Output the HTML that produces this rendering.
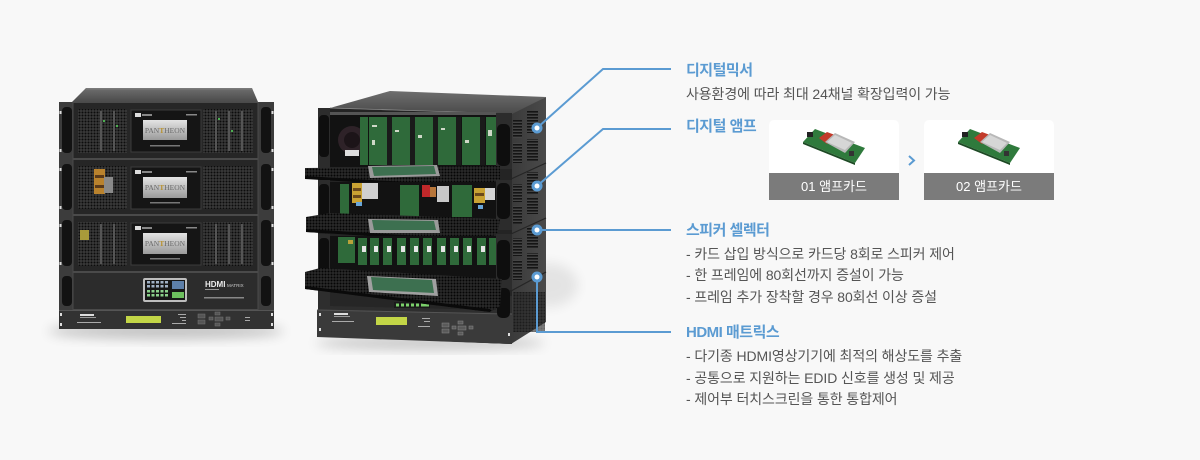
<!DOCTYPE html>
<html><head><meta charset="utf-8">
<style>
html,body{margin:0;padding:0;}
body{width:1200px;height:460px;background:#f8f8f8;position:relative;overflow:hidden;font-family:"Liberation Sans","Noto Sans CJK KR",sans-serif;}
svg{position:absolute;left:0;top:0;}
.t{position:absolute;left:686px;font-size:15px;font-weight:bold;color:#5b9bd2;line-height:20px;letter-spacing:-0.5px;white-space:nowrap;}
.d{position:absolute;left:686px;font-size:14px;color:#555;line-height:20px;white-space:nowrap;letter-spacing:-0.1px;}
.card{position:absolute;top:120px;width:130px;height:80px;background:#fff;border-radius:5px 5px 0 0;overflow:hidden;}
.lab{position:absolute;left:0;bottom:0;width:130px;height:27px;line-height:27px;text-align:center;color:#fff;font-size:13px;background:#7b7b7b;}
</style></head><body>
<svg width="1200" height="460" viewBox="0 0 1200 460" xmlns="http://www.w3.org/2000/svg">
<defs>
<pattern id="mesh" width="3" height="3" patternUnits="userSpaceOnUse"><rect width="3" height="3" fill="#3a3a3a"/><circle cx="1.5" cy="1.5" r="1" fill="#0c0c0c"/></pattern>
<pattern id="tmesh" width="3" height="3" patternUnits="userSpaceOnUse"><rect width="3" height="3" fill="#2a2a2a"/><circle cx="1.5" cy="1.5" r="1" fill="#050505"/></pattern>
<pattern id="vent" width="4" height="3" patternUnits="userSpaceOnUse"><rect width="4" height="3" fill="#454545"/><rect width="4" height="1.6" fill="#151515"/></pattern>
<linearGradient id="scr" x1="0" y1="0" x2="0" y2="1"><stop offset="0" stop-color="#e4e4e4"/><stop offset="1" stop-color="#9a9a9a"/></linearGradient>
<linearGradient id="topg" x1="0" y1="0" x2="0" y2="1"><stop offset="0" stop-color="#6e6e6e"/><stop offset="1" stop-color="#4a4a4a"/></linearGradient>
<linearGradient id="side" x1="0" y1="0" x2="1" y2="0"><stop offset="0" stop-color="#3a3a3a"/><stop offset="1" stop-color="#4a4a4a"/></linearGradient>
<filter id="bl" x="-50%" y="-50%" width="200%" height="200%"><feGaussianBlur stdDeviation="6"/></filter>
</defs>

<!-- ============ LEFT RACK ============ -->
<ellipse cx="166" cy="331" rx="118" ry="8" fill="#000" opacity=".22" filter="url(#bl)"/>
<polygon points="86,88 252,88 258,102 72,102" fill="url(#topg)"/>
<rect x="86" y="88" width="166" height="1.5" fill="#7a7a7a"/>
<rect x="59" y="102" width="215" height="208" fill="#3c3c3c"/>

<!-- unit 1 -->
<rect x="73" y="102.5" width="185" height="56" fill="#262626" stroke="#4a4a4a"/>
<rect x="78" y="109" width="49" height="44" fill="url(#mesh)"/>
<rect x="203" y="109" width="50" height="44" fill="url(#mesh)"/>
<g fill="#555"><rect x="100" y="111" width="2" height="40"/><rect x="113" y="111" width="2" height="40"/><rect x="215" y="111" width="2" height="40"/><rect x="228" y="111" width="2" height="40"/><rect x="241" y="111" width="2" height="40"/></g>
<g fill="#4caf50"><rect x="103" y="120" width="2" height="2"/><rect x="116" y="125" width="2" height="2"/><rect x="218" y="118" width="2" height="2"/><rect x="231" y="130" width="2" height="2"/></g>
<rect x="131" y="110" width="70" height="42" fill="#151515" stroke="#3c3c3c"/>
<rect x="135" y="113" width="6" height="4" fill="#ddd"/><rect x="142" y="114" width="10" height="2" fill="#888"/><rect x="186" y="114" width="11" height="1.5" fill="#888"/>
<rect x="143" y="120" width="44" height="20" fill="url(#scr)"/>
<text x="165" y="133" font-size="7.5" text-anchor="middle" fill="#6a6a6a" font-family="Liberation Serif">PAN<tspan fill="#b8912e" font-weight="bold">T</tspan>HEON</text>
<rect x="150" y="145" width="30" height="1.5" fill="#777"/>
<rect x="62" y="107" width="10" height="46" rx="4" fill="#121212"/><rect x="261" y="107" width="10" height="46" rx="4" fill="#121212"/>
<rect x="59.5" y="111" width="2" height="3" fill="#ddd"/><rect x="59.5" y="149" width="2" height="3" fill="#ddd"/><rect x="271.5" y="111" width="2" height="3" fill="#ddd"/><rect x="271.5" y="149" width="2" height="3" fill="#ddd"/>

<!-- unit 2 -->
<rect x="73" y="159.5" width="185" height="55" fill="#262626" stroke="#4a4a4a"/>
<rect x="78" y="166" width="49" height="43" fill="url(#mesh)"/>
<rect x="203" y="166" width="50" height="43" fill="url(#mesh)"/>
<rect x="94" y="169" width="11" height="25" fill="#b9822d"/><rect x="95" y="175" width="9" height="3" fill="#5a3a1a"/><rect x="95" y="185" width="9" height="3" fill="#5a3a1a"/>
<rect x="104" y="177" width="9" height="16" fill="#8a8a8a"/>
<rect x="131" y="167" width="70" height="42" fill="#151515" stroke="#3c3c3c"/>
<rect x="135" y="170" width="6" height="4" fill="#ddd"/><rect x="142" y="171" width="10" height="2" fill="#888"/><rect x="186" y="171" width="11" height="1.5" fill="#888"/>
<rect x="143" y="177" width="44" height="21" fill="url(#scr)"/>
<text x="165" y="190" font-size="7.5" text-anchor="middle" fill="#6a6a6a" font-family="Liberation Serif">PAN<tspan fill="#b8912e" font-weight="bold">T</tspan>HEON</text>
<rect x="150" y="202" width="30" height="1.5" fill="#777"/>
<rect x="62" y="164" width="10" height="46" rx="4" fill="#121212"/><rect x="261" y="164" width="10" height="46" rx="4" fill="#121212"/>
<rect x="59.5" y="168" width="2" height="3" fill="#ddd"/><rect x="59.5" y="206" width="2" height="3" fill="#ddd"/><rect x="271.5" y="168" width="2" height="3" fill="#ddd"/><rect x="271.5" y="206" width="2" height="3" fill="#ddd"/>

<!-- unit 3 -->
<rect x="73" y="215.5" width="185" height="56" fill="#262626" stroke="#4a4a4a"/>
<rect x="78" y="222" width="49" height="44" fill="url(#mesh)"/>
<rect x="203" y="222" width="50" height="44" fill="url(#mesh)"/>
<rect x="80" y="230" width="9" height="10" fill="#a89a3a"/>
<g fill="#555"><rect x="100" y="224" width="2" height="40"/><rect x="113" y="224" width="2" height="40"/><rect x="215" y="224" width="2" height="40"/><rect x="228" y="224" width="2" height="40"/><rect x="241" y="224" width="2" height="40"/></g>
<rect x="131" y="223" width="70" height="42" fill="#151515" stroke="#3c3c3c"/>
<rect x="135" y="226" width="6" height="4" fill="#ddd"/><rect x="142" y="227" width="10" height="2" fill="#888"/><rect x="186" y="227" width="11" height="1.5" fill="#888"/>
<rect x="143" y="233" width="44" height="21" fill="url(#scr)"/>
<text x="165" y="246" font-size="7.5" text-anchor="middle" fill="#6a6a6a" font-family="Liberation Serif">PAN<tspan fill="#b8912e" font-weight="bold">T</tspan>HEON</text>
<rect x="150" y="258" width="30" height="1.5" fill="#777"/>
<rect x="62" y="220" width="10" height="46" rx="4" fill="#121212"/><rect x="261" y="220" width="10" height="46" rx="4" fill="#121212"/>
<rect x="59.5" y="224" width="2" height="3" fill="#ddd"/><rect x="59.5" y="262" width="2" height="3" fill="#ddd"/><rect x="271.5" y="224" width="2" height="3" fill="#ddd"/><rect x="271.5" y="262" width="2" height="3" fill="#ddd"/>

<!-- unit 4 HDMI -->
<rect x="73" y="272.5" width="185" height="37" fill="#2c2c2c" stroke="#4a4a4a"/>
<rect x="143" y="278" width="44" height="24" rx="2" fill="#bdbdbd"/>
<rect x="145" y="280" width="40" height="20" fill="#161616"/>
<g fill="#9fb0c4">
<rect x="147" y="281" width="3" height="2.5"/><rect x="151.5" y="281" width="3" height="2.5"/><rect x="156" y="281" width="3" height="2.5"/><rect x="160.5" y="281" width="3" height="2.5"/><rect x="165" y="281" width="3" height="2.5"/>
<rect x="147" y="285" width="3" height="2.5"/><rect x="151.5" y="285" width="3" height="2.5"/><rect x="156" y="285" width="3" height="2.5"/><rect x="160.5" y="285" width="3" height="2.5"/><rect x="165" y="285" width="3" height="2.5"/>
</g>
<g fill="#8ad08a">
<rect x="147" y="290" width="3" height="2.5"/><rect x="151.5" y="290" width="3" height="2.5"/><rect x="156" y="290" width="3" height="2.5"/><rect x="160.5" y="290" width="3" height="2.5"/><rect x="165" y="290" width="3" height="2.5"/>
<rect x="147" y="294" width="3" height="2.5"/><rect x="151.5" y="294" width="3" height="2.5"/><rect x="156" y="294" width="3" height="2.5"/><rect x="160.5" y="294" width="3" height="2.5"/><rect x="165" y="294" width="3" height="2.5"/>
</g>
<rect x="172" y="281" width="12" height="8" fill="#5d7fa8"/>
<rect x="172" y="292" width="12" height="6" fill="#6dbf5e"/>
<text x="205" y="287" font-size="8" font-weight="bold" fill="#eee" font-family="Liberation Sans">HDMI</text>
<text x="227" y="287" font-size="4.5" fill="#ccc" font-family="Liberation Sans">MATRIX</text>
<rect x="205" y="289" width="14" height="1" fill="#999"/>
<rect x="204" y="297" width="40" height="1.5" fill="#888"/>
<rect x="62" y="276" width="10" height="30" rx="4" fill="#121212"/><rect x="261" y="276" width="10" height="30" rx="4" fill="#121212"/>

<!-- unit 5 -->
<rect x="59" y="310" width="215" height="19" fill="#323232"/>
<rect x="59" y="310" width="215" height="1" fill="#555"/>
<rect x="80" y="314" width="14" height="2" fill="#ddd"/><rect x="80" y="317" width="16" height="1" fill="#999"/><rect x="77" y="322" width="24" height="1" fill="#aaa"/>
<rect x="126" y="316" width="35" height="7" fill="#c3d647"/>
<g fill="#aaa"><rect x="178" y="314" width="8" height="1"/><rect x="180" y="317" width="6" height="1"/><rect x="182" y="320" width="4" height="1"/><rect x="172" y="323" width="14" height="1"/></g>
<g fill="#555" stroke="#777" stroke-width=".5"><rect x="198" y="314" width="7" height="4"/><rect x="198" y="320" width="7" height="4"/><rect x="209" y="317" width="4" height="3"/><rect x="215" y="312" width="5" height="3"/><rect x="215" y="317" width="8" height="4"/><rect x="215" y="323" width="5" height="3"/><rect x="226" y="317" width="4" height="3"/></g>
<rect x="245" y="317" width="5" height="1" fill="#aaa"/><rect x="245" y="320" width="5" height="1" fill="#aaa"/>
<rect x="60" y="313" width="2" height="3" fill="#ddd"/><rect x="60" y="323" width="2" height="3" fill="#ddd"/><rect x="271" y="313" width="2" height="3" fill="#ddd"/><rect x="271" y="323" width="2" height="3" fill="#ddd"/>

<!-- ============ RIGHT RACK ============ -->
<ellipse cx="430" cy="343" rx="115" ry="6" fill="#000" opacity=".22" filter="url(#bl)"/>
<ellipse cx="548" cy="285" rx="30" ry="22" fill="#000" opacity=".08" filter="url(#bl)"/>
<!-- side face -->
<polygon points="511,113 546,97 546,322 511,344" fill="url(#side)"/>
<g stroke="#252525" stroke-width="1.2"><line x1="511" y1="179" x2="546" y2="163"/><line x1="511" y1="234" x2="546" y2="218"/><line x1="511" y1="291" x2="546" y2="272"/></g>
<g fill="url(#vent)">
<rect x="513" y="120" width="9" height="18"/><rect x="527" y="111" width="11" height="22"/><rect x="513" y="143" width="9" height="20"/><rect x="527" y="139" width="11" height="22"/>
<rect x="513" y="184" width="9" height="18"/><rect x="527" y="172" width="11" height="22"/><rect x="513" y="206" width="9" height="18"/><rect x="527" y="198" width="11" height="16"/>
<rect x="513" y="238" width="9" height="18"/><rect x="527" y="227" width="11" height="22"/><rect x="513" y="260" width="9" height="20"/><rect x="527" y="253" width="11" height="16"/>
</g>
<rect x="513" y="292" width="32" height="40" fill="url(#tmesh)" opacity=".6"/>
<!-- top -->
<polygon points="330,108 390,91 546,97 512,114" fill="url(#topg)"/>
<line x1="330" y1="108" x2="512" y2="114" stroke="#888" stroke-width="1"/>
<!-- front base -->
<polygon points="318,108 512,114 512,344 318,336" fill="#242424"/>

<!-- unit 1 interior -->
<rect x="330" y="112" width="166" height="55" fill="#121212"/>
<rect x="330" y="112" width="166" height="3" fill="#555"/>
<circle cx="352" cy="140" r="14" fill="#2e2228"/><circle cx="352" cy="140" r="8" fill="#1c1418"/>
<rect x="345" y="150" width="14" height="6" fill="#ddd"/>
<g fill="#2f6a3a">
<rect x="360" y="117" width="8" height="48"/>
<rect x="369" y="117" width="20" height="48"/><rect x="392" y="117" width="21" height="48"/><rect x="415" y="117" width="21" height="48"/><rect x="438" y="117" width="21" height="48"/><rect x="462" y="117" width="20" height="48"/><rect x="486" y="117" width="10" height="48"/>
</g>
<g fill="#1a1a1a"><rect x="387" y="117" width="5" height="48"/><rect x="410" y="117" width="5" height="48"/><rect x="433" y="117" width="5" height="48"/><rect x="456" y="117" width="5" height="48"/><rect x="480" y="117" width="5" height="48"/></g>
<g fill="#cfd8c8"><rect x="372" y="125" width="5" height="2"/><rect x="372" y="140" width="3" height="5"/><rect x="395" y="130" width="4" height="2"/><rect x="418" y="135" width="4" height="3"/><rect x="441" y="128" width="4" height="2"/><rect x="465" y="140" width="4" height="3"/><rect x="488" y="130" width="4" height="6"/></g>
<rect x="318" y="108" width="12" height="60" fill="#2c2c2c"/>
<rect x="319" y="115" width="10" height="42" rx="4" fill="#0e0e0e"/>
<rect x="496" y="113" width="16" height="56" fill="#2c2c2c"/>
<rect x="497" y="124" width="13" height="42" rx="5" fill="#0e0e0e"/>

<!-- tray 1 -->
<polygon points="305,168 500,166 500,180 490,190 305,178" fill="url(#tmesh)"/>
<polygon points="305,176 490,187 490,190 305,179" fill="#0a0a0a"/>
<polygon points="368,166 437,165 440,176 370,178" fill="#9a9a9a"/>
<polygon points="372,167 434,166 436,174 374,176" fill="#3d7050"/>

<!-- unit 2 -->
<rect x="330" y="182" width="166" height="45" fill="#121212"/>
<rect x="340" y="184" width="9" height="30" fill="#2f6a3a"/>
<rect x="352" y="183" width="10" height="20" fill="#c9a233"/><rect x="353" y="188" width="8" height="3" fill="#6b4a1c"/><rect x="353" y="195" width="8" height="3" fill="#6b4a1c"/>
<rect x="362" y="183" width="16" height="16" fill="#d0d0d0"/>
<rect x="356" y="202" width="6" height="4" fill="#6aa6d8"/>
<rect x="400" y="185" width="19" height="32" fill="#2f6a3a"/>
<rect x="422" y="185" width="8" height="12" fill="#c0282a"/><rect x="430" y="187" width="6" height="10" fill="#b7763a"/>
<rect x="437" y="186" width="12" height="16" fill="#c8c8c8"/>
<rect x="452" y="185" width="20" height="32" fill="#2f6a3a"/>
<rect x="474" y="188" width="11" height="15" fill="#c9a233"/><rect x="475" y="193" width="9" height="3" fill="#6b4a1c"/>
<rect x="485" y="188" width="10" height="12" fill="#d5d5d5"/>
<rect x="478" y="205" width="5" height="4" fill="#6aa6d8"/>
<rect x="318" y="180" width="12" height="48" fill="#2c2c2c"/>
<rect x="319" y="184" width="10" height="36" rx="4" fill="#0e0e0e"/>
<rect x="496" y="180" width="16" height="50" fill="#2c2c2c"/>
<rect x="497" y="183" width="13" height="36" rx="5" fill="#0e0e0e"/>

<!-- tray 2 -->
<polygon points="306,217 330,213 500,219 498,232 484,243 306,232" fill="url(#tmesh)"/>
<polygon points="306,229 484,240 484,243 306,232" fill="#0a0a0a"/>
<polygon points="368,219 438,220 440,233 370,233" fill="#9a9a9a"/>
<polygon points="372,220 434,221 436,230 374,230" fill="#3d7050"/>

<!-- unit 3 -->
<rect x="330" y="236" width="166" height="44" fill="#121212"/>
<rect x="338" y="237" width="17" height="26" fill="#2f6a3a"/><rect x="348" y="240" width="5" height="4" fill="#b8a23a"/>
<g fill="#2f6a3a">
<rect x="358" y="238" width="9" height="27"/><rect x="370" y="238" width="9" height="27"/><rect x="383" y="238" width="9" height="27"/><rect x="397" y="238" width="9" height="27"/><rect x="410" y="238" width="9" height="27"/><rect x="423" y="238" width="9" height="27"/><rect x="437" y="238" width="9" height="27"/><rect x="450" y="238" width="9" height="27"/><rect x="463" y="238" width="9" height="27"/><rect x="477" y="238" width="9" height="27"/><rect x="489" y="238" width="7" height="27"/>
</g>
<g fill="#e6e6e6">
<rect x="362" y="246" width="4" height="6"/><rect x="374" y="246" width="4" height="6"/><rect x="387" y="246" width="4" height="6"/><rect x="401" y="246" width="4" height="6"/><rect x="414" y="246" width="4" height="6"/><rect x="427" y="246" width="4" height="6"/><rect x="441" y="246" width="4" height="6"/><rect x="454" y="246" width="4" height="6"/><rect x="467" y="246" width="4" height="6"/><rect x="481" y="246" width="4" height="6"/>
</g>
<rect x="318" y="234" width="12" height="46" fill="#2c2c2c"/>
<rect x="319" y="238" width="10" height="34" rx="4" fill="#0e0e0e"/>
<rect x="496" y="234" width="16" height="56" fill="#2c2c2c"/>
<rect x="497" y="240" width="13" height="40" rx="5" fill="#0e0e0e"/>

<!-- bottom unit -->
<polygon points="318,290 512,296 512,344 318,336" fill="#2e2e2e"/>
<polygon points="330,292 496,297 496,310 330,306" fill="#262626"/>
<rect x="394" y="302" width="36" height="6" fill="#1a1a1a"/>
<g fill="#7bd06b"><rect x="396" y="303.5" width="3" height="3"/><rect x="401" y="303.5" width="3" height="3"/><rect x="406" y="303.5" width="3" height="3"/><rect x="411" y="303.5" width="3" height="3"/><rect x="416" y="303.5" width="3" height="3"/><rect x="421" y="303.5" width="8" height="3"/></g>
<polygon points="317,310 512,314 512,344 317,337" fill="#3a3a3a"/>
<line x1="317" y1="310" x2="512" y2="314" stroke="#555"/>
<rect x="334" y="313" width="14" height="2" fill="#ddd"/><rect x="334" y="316" width="16" height="1" fill="#999"/><rect x="332" y="321" width="22" height="1" fill="#aaa"/>
<rect x="376" y="317" width="31" height="8" fill="#c3d647"/>
<g fill="#aaa"><rect x="422" y="318" width="8" height="1"/><rect x="424" y="321" width="6" height="1"/><rect x="418" y="326" width="12" height="1"/></g>
<g fill="#5a5a5a" stroke="#888" stroke-width=".5"><rect x="442" y="323" width="7" height="4"/><rect x="442" y="329" width="7" height="4"/><rect x="452" y="326" width="4" height="3"/><rect x="458" y="321" width="5" height="3"/><rect x="458" y="326" width="8" height="4"/><rect x="458" y="332" width="5" height="3"/><rect x="469" y="326" width="4" height="3"/></g>
<rect x="319" y="313" width="2" height="3" fill="#ddd"/><rect x="319" y="328" width="2" height="3" fill="#ddd"/><rect x="508" y="333" width="2" height="3" fill="#ddd"/>
<rect x="497" y="288" width="13" height="30" rx="5" fill="#0e0e0e"/>

<!-- tray 3 -->
<polygon points="305,272 320,268 502,279 500,306 490,312 305,289" fill="url(#tmesh)"/>
<polygon points="305,286 490,309 490,312 305,289" fill="#0a0a0a"/>
<polygon points="367,276 436,279 438,296 369,292" fill="#a0a0a0"/>
<polygon points="371,277 432,280 434,293 373,290" fill="#3d7050"/>

<!-- ============ CONNECTORS ============ -->
<g fill="none" stroke="#5b9bd2" stroke-width="2">
<polyline points="537,128 603,69 671,69"/>
<polyline points="537,186 603,129 671,129"/>
<polyline points="537,230 671,230"/>
<polyline points="537,277 537,332 671,332"/>
</g>
<g fill="#5b9bd2"><circle cx="537" cy="128" r="5.5"/><circle cx="537" cy="186" r="5.5"/><circle cx="537" cy="230" r="5.5"/><circle cx="537" cy="277" r="5.5"/></g>
<g fill="#fff"><circle cx="537" cy="128" r="2.5"/><circle cx="537" cy="186" r="2.5"/><circle cx="537" cy="230" r="2.5"/><circle cx="537" cy="277" r="2.5"/></g>

<!-- chevron -->
<polyline points="909,156 914,160.5 909,165" fill="none" stroke="#5b9bd2" stroke-width="2"/>
</svg>

<!-- cards -->
<div class="card" style="left:769px;">
<svg width="130" height="53" viewBox="0 0 130 53" style="position:absolute;left:0;top:0;">
<polygon points="34,22 46,9 96,28 86,43" fill="#2f7a3c"/>
<polygon points="34,22 86,43 86,45 34,24" fill="#1d4a24"/>
<polygon points="50,18 58,12 66,15 58,24" fill="#c23a2a"/>
<polygon points="56,22 66,13 86,22 76,33" fill="#b8b8b8"/>
<polygon points="58,22 66,15 83,23 76,30" fill="#d6d6d6"/>
<rect x="38" y="12" width="6" height="5" fill="#222"/>
<rect x="80" y="31" width="5" height="5" fill="#333"/>
</svg>
<div class="lab">01 앰프카드</div>
</div>
<div class="card" style="left:924px;">
<svg width="130" height="53" viewBox="0 0 130 53" style="position:absolute;left:0;top:0;">
<polygon points="34,22 46,9 96,28 86,43" fill="#2f7a3c"/>
<polygon points="34,22 86,43 86,45 34,24" fill="#1d4a24"/>
<polygon points="50,18 58,12 66,15 58,24" fill="#c23a2a"/>
<polygon points="56,22 66,13 86,22 76,33" fill="#b8b8b8"/>
<polygon points="58,22 66,15 83,23 76,30" fill="#d6d6d6"/>
<rect x="38" y="12" width="6" height="5" fill="#222"/>
<rect x="80" y="31" width="5" height="5" fill="#333"/>
</svg>
<div class="lab">02 앰프카드</div>
</div>

<!-- text -->
<div class="t" style="top:61px;">디지털믹서</div>
<div class="d" style="top:84px;">사용환경에 따라 최대 24채널 확장입력이 가능</div>
<div class="t" style="top:117px;">디지털 앰프</div>
<div class="t" style="top:221px;">스피커 셀렉터</div>
<div class="d" style="top:244px;">- 카드 삽입 방식으로 카드당 8회로 스피커 제어</div>
<div class="d" style="top:265px;">- 한 프레임에 80회선까지 증설이 가능</div>
<div class="d" style="top:287px;">- 프레임 추가 장착할 경우 80회선 이상 증설</div>
<div class="t" style="top:323px;">HDMI 매트릭스</div>
<div class="d" style="top:346px;">- 다기종 HDMI영상기기에 최적의 해상도를 추출</div>
<div class="d" style="top:368px;">- 공통으로 지원하는 EDID 신호를 생성 및 제공</div>
<div class="d" style="top:389px;">- 제어부 터치스크린을 통한 통합제어</div>
</body></html>
